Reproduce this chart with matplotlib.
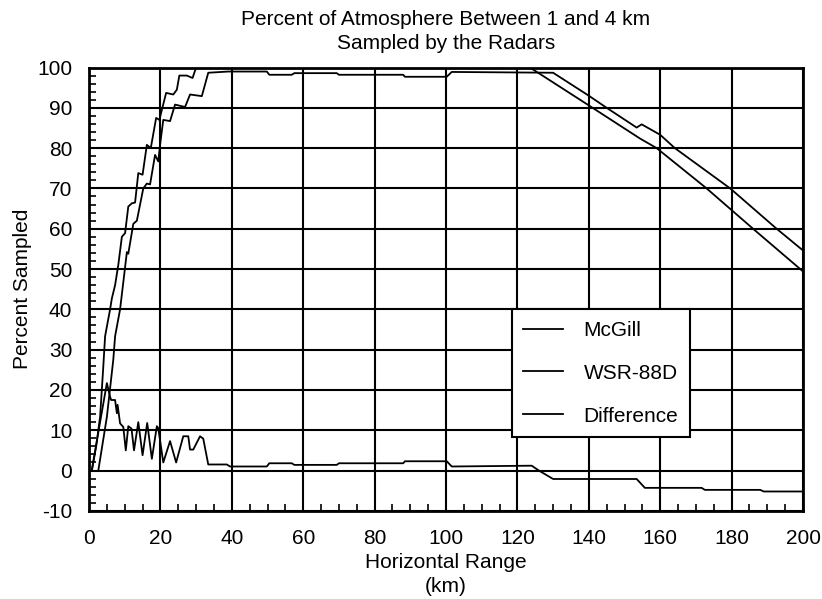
import matplotlib
matplotlib.use("Agg")
import matplotlib.pyplot as plt
from matplotlib.ticker import MultipleLocator

plt.rcParams['font.family'] = ['Liberation Sans', 'DejaVu Sans']
plt.rcParams['axes.unicode_minus'] = False

# values
mcgill_km = [0.8, 2.0, 3.1, 4.0, 4.5, 5.9, 6.4, 7.3, 8.2, 9.2, 10.1, 11.0, 12.0, 12.9,
             13.8, 15.0, 16.2, 17.3, 18.8, 19.7, 21.6, 23.6, 24.6, 25.3, 27.4, 29.0,
             30.0, 123.5, 130.0, 140.0, 154.3, 159.0, 173.0, 186.0, 200.0]
mcgill_pct = [0, 6, 13.3, 25.8, 33.3, 40, 42.7, 46, 51, 58, 58.9, 65.5, 66.3, 66.5,
              73.8, 73.4, 80.8, 80, 87.5, 87, 93.7, 93.3, 94.5, 98, 98, 97.4,
              100, 100, 96.3, 90.6, 82.4, 80, 70, 60, 49.4]

wsr_km = [2.6, 5.0, 6.8, 7.3, 8.7, 9.6, 10.6, 11.0, 12.4, 13.4, 15.2, 16.2, 17.1, 18.5,
          19.4, 19.9, 20.8, 22.7, 24.1, 26.9, 28.3, 31.6, 33.4, 39.0, 49.8, 50.5,
          56.8, 57.5, 69.4, 70.0, 88.0, 88.5, 100.2, 101.6, 130.0, 140.0, 145.0,
          153.4, 154.8, 160.0, 164.1, 179.6, 192.6, 200.0]
wsr_pct = [0, 13.3, 27.5, 33.3, 40, 46.7, 54.2, 53.8, 61.2, 62, 70, 71.2, 71, 78.3,
           76.7, 80.8, 87, 86.7, 90.8, 90.2, 93.3, 92.9, 98.7, 99.0, 99.0, 98.2,
           98.2, 98.6, 98.6, 98.2, 98.2, 97.7, 97.7, 98.9, 98.7, 93, 90,
           85.1, 85.9, 83.3, 80, 70, 60, 54.6]

diff_km = [0.75, 5.0, 5.9, 6.2, 7.3, 7.8, 8.0, 8.7, 9.6, 10.3, 11.0, 11.9, 12.6, 13.8,
           15.0, 16.3, 17.6, 19.0, 19.4, 20.8, 22.7, 24.4, 26.4, 27.8, 28.3, 29.2,
           31.1, 32.0, 33.4, 38.6, 39.5, 49.8, 50.5, 56.8, 57.5, 69.4, 70.0, 88.0,
           88.5, 100.2, 101.6, 124.0, 126.0, 130.0, 153.4, 155.7, 171.6, 172.5,
           188.0, 189.0, 200.0]
diff_pct = [0, 21.7, 18.3, 17.5, 17.5, 14.2, 16.3, 11.7, 10.8, 5.0, 11.0, 10.4, 5.0, 12.0,
            3.8, 11.8, 2.9, 11.0, 10.5, 2.0, 7.3, 2.0, 8.5, 8.5, 5.2, 5.2,
            8.5, 7.9, 1.5, 1.5, 1.0, 1.0, 1.8, 1.8, 1.4, 1.4, 1.8, 1.8,
            2.3, 2.3, 1.0, 1.2, 0.0, -2.1, -2.1, -4.3, -4.3, -4.8,
            -4.8, -5.2, -5.2]

fig = plt.figure(figsize=(8.22, 5.99), dpi=100)
ax = fig.add_axes([0.1083, 0.1472, 0.8686, 0.7401])

ax.plot(mcgill_km, mcgill_pct, color='black', lw=1.3, label='McGill')
ax.plot(wsr_km, wsr_pct, color='black', lw=1.3, label='WSR-88D')
ax.plot(diff_km, diff_pct, color='black', lw=1.3, label='Difference')

ax.set_xlim(0, 200)
ax.set_ylim(-10, 100)
ax.xaxis.set_major_locator(MultipleLocator(20))
ax.xaxis.set_minor_locator(MultipleLocator(5))
ax.yaxis.set_major_locator(MultipleLocator(10))
ax.yaxis.set_minor_locator(MultipleLocator(2))
ax.grid(True, which='major', color='black', lw=1.5)
ax.tick_params(which='both', direction='in', top=False, right=False, labelsize=15, width=1.2)
ax.tick_params(axis='x', which='major', length=0, pad=13)
ax.tick_params(axis='y', which='major', length=0, pad=12)
ax.tick_params(which='minor', length=5)
for s in ax.spines.values():
    s.set_linewidth(2)

ax.set_title('Percent of Atmosphere Between 1 and 4 km\nSampled by the Radars',
             fontsize=15, pad=13, linespacing=1.35)
ax.set_xlabel('Horizontal Range\n(km)', fontsize=15, labelpad=4, linespacing=1.3)
ax.set_ylabel('Percent Sampled', fontsize=15, labelpad=4)

leg = ax.legend(loc='upper left', bbox_to_anchor=(0.592, 0.4545), fontsize=15,
                frameon=True, fancybox=False, framealpha=1, edgecolor='black',
                handlelength=1.9, handletextpad=1.0, labelspacing=1.15,
                borderpad=0.55, borderaxespad=0)
leg.get_frame().set_linewidth(1.5)

fig.savefig('out.png', dpi=100)
